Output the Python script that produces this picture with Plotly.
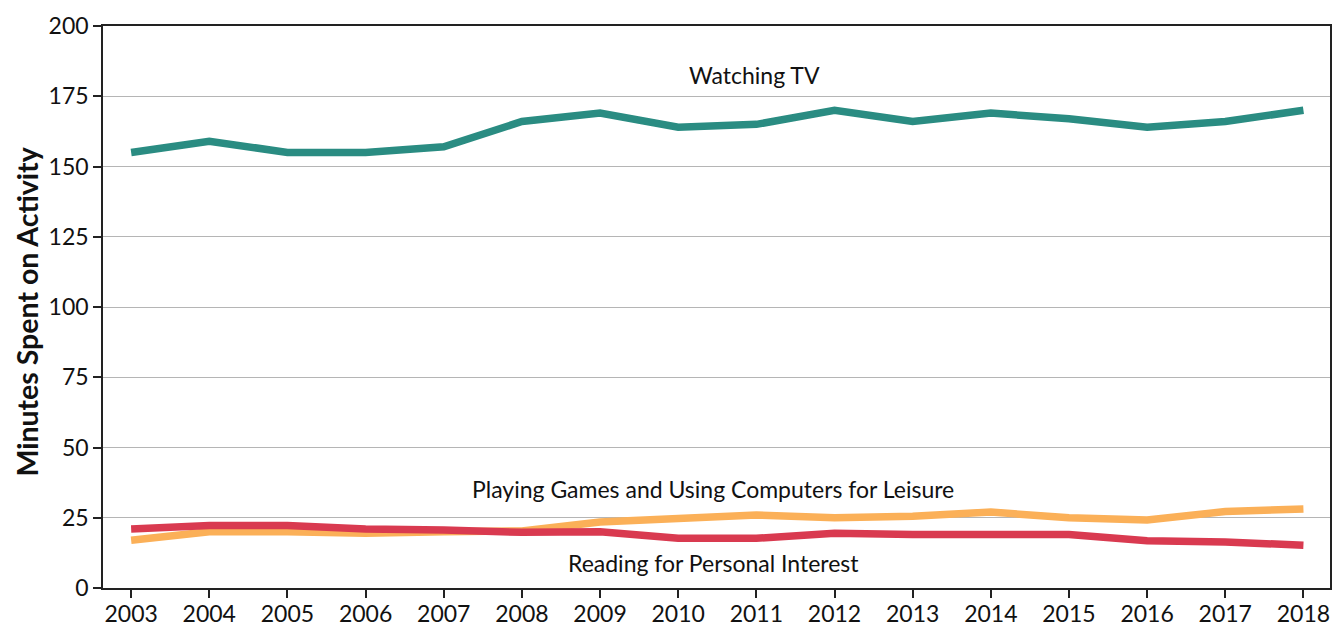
import plotly.graph_objects as go

years = list(range(2003, 2019))
watching_tv = [155, 159, 155, 155, 157, 166, 169, 164, 165, 170, 166, 169, 167, 164, 166, 170]
games_computers = [17, 20, 20, 19.5, 20, 20.3, 23.5, 24.5, 26, 25, 25.5, 27, 25, 24.2, 27.2, 28.1]
reading = [21, 22.2, 22.2, 21, 20.6, 19.8, 20, 17.7, 17.7, 19.5, 19, 19, 19, 16.8, 16.4, 15.2]

series_names = ["Watching TV", "Playing Games and Using Computers for Leisure", "Reading for Personal Interest"]
colors = ["#2a8c82", "#fbb058", "#d93a50"]
label_pos = [(2010.97, 182.6), (2010.45, 35.3), (2010.45, 8.9)]
y_ticks = [0, 25, 50, 75, 100, 125, 150, 175, 200]
y_title = "Minutes Spent on Activity"

FONT = "Lato"

fig = go.Figure()
for name, vals, col in [(series_names[0], watching_tv, colors[0]),
                        (series_names[1], games_computers, colors[1]),
                        (series_names[2], reading, colors[2])]:
    fig.add_trace(go.Scatter(x=years, y=vals, mode="lines", name=name,
                             line=dict(color=col, width=7.5, shape="linear"),
                             hoverinfo="x+y+name"))

for name, (lx, ly) in zip(series_names, label_pos):
    fig.add_annotation(x=lx, y=ly, text=name, showarrow=False,
                       font=dict(family=FONT, size=23, color="#111111"),
                       xanchor="center", yanchor="middle")

# y-axis title placed as a rotated annotation for precise position
fig.add_annotation(xref="paper", yref="paper", x=-0.0619, y=0.492, text=y_title,
                   textangle=-90, showarrow=False, xanchor="center", yanchor="middle",
                   borderpad=0,
                   font=dict(family=FONT, size=28.5, color="#111111", weight="bold"))

# page body has an 8px margin, so the figure is offset by 8px
fig.update_layout(
    width=1332, height=620,
    margin=dict(l=95, r=10, t=18, b=40),
    plot_bgcolor="white", paper_bgcolor="white",
    showlegend=False,
    font=dict(family=FONT, size=23, color="#111111"),
)
fig.update_xaxes(
    range=[2002.64, 2018.34], tickmode="array", tickvals=years,
    ticktext=[str(y) for y in years], automargin=False,
    showgrid=False, zeroline=False,
    showline=True, linecolor="#222222", linewidth=1.5, mirror=True,
    ticks="outside", ticklen=8, tickcolor="#222222", tickwidth=1.5,
    ticklabelstandoff=-3,
    tickfont=dict(family=FONT, size=23, color="#111111"),
)
fig.update_yaxes(
    range=[0, 200], tickmode="array", tickvals=y_ticks, automargin=False,
    showgrid=True, gridcolor="#b5b5b5", gridwidth=1.2, zeroline=False,
    showline=True, linecolor="#222222", linewidth=1.5, mirror=True,
    ticks="outside", ticklen=8, tickcolor="#222222", tickwidth=1.5,
    tickfont=dict(family=FONT, size=23, color="#111111"),
)

fig.write_html("out.html")
